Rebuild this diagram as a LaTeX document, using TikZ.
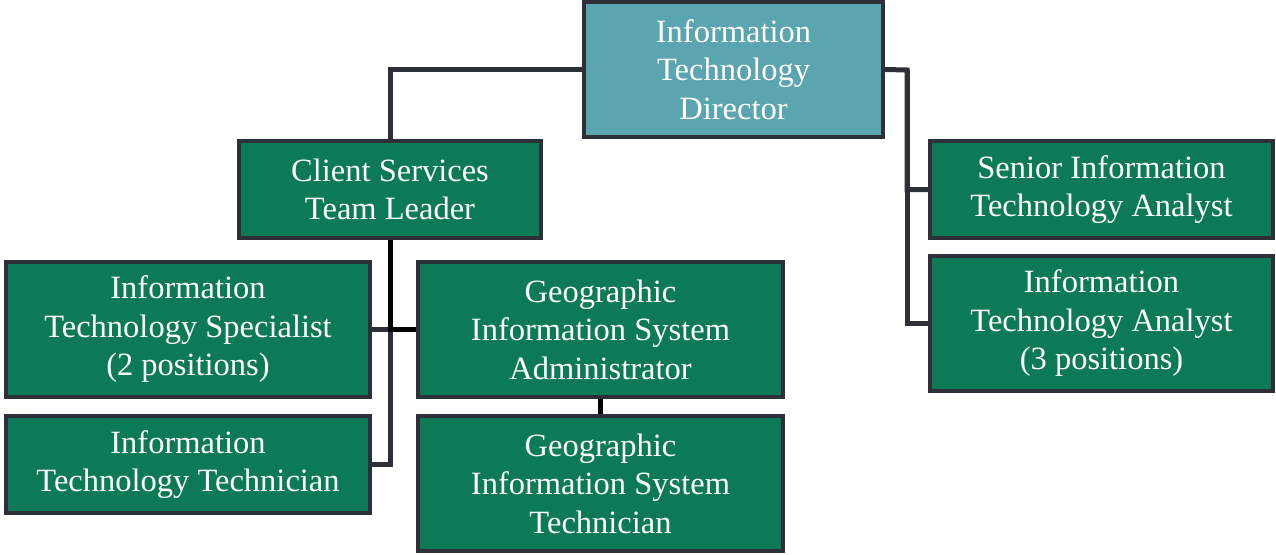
\documentclass[tikz,border=0pt]{standalone}
\usepackage{fontspec}
\setmainfont{Liberation Serif}
\usetikzlibrary{positioning}

\definecolor{boxgreen}{HTML}{0C7A56}
\definecolor{boxteal}{HTML}{5AA5B0}
\definecolor{edgegrey}{HTML}{2D3039}

\tikzset{
  orgbox/.style={rectangle,draw=edgegrey,line width=4pt,fill=boxgreen,text=white,
    align=center,inner sep=0pt,font=\fontsize{32.5}{38.5}\selectfont},
  link/.style={draw=edgegrey,line width=5pt},
  linkfront/.style={draw=black,line width=5pt}
}

\begin{document}
\begin{tikzpicture}[x=1pt,y=-1pt]
\useasboundingbox (0,0) rectangle (1276,554);

\node[orgbox,fill=boxteal,minimum width=299pt,minimum height=135pt] (dir) at (733.5,69.5) {Information\\Technology\\Director};
\node[orgbox,minimum width=302pt,minimum height=97pt] (cs) at (390,189.5) {Client Services\\Team Leader};
\node[orgbox,minimum width=364pt,minimum height=135pt] (its) at (188,329.5) {Information\\Technology Specialist\\(2 positions)};
\node[orgbox,minimum width=364pt,minimum height=97pt] (itt) at (188,464.5) {Information\\Technology Technician};
\node[orgbox,minimum width=365pt,minimum height=135pt] (gisa) at (600.5,329.5) {Geographic\\Information System\\Administrator};
\node[orgbox,minimum width=365pt,minimum height=135pt] (gist) at (600.5,483.5) {Geographic\\Information System\\Technician};
\node[orgbox,minimum width=343pt,minimum height=97pt] (sita) at (1101.5,189.5) {Senior Information\\Technology Analyst};
\node[orgbox,minimum width=343pt,minimum height=135pt] (ita) at (1101.5,323.5) {Information\\Technology Analyst\\(3 positions)};

% director to the two branches
\draw[link] (dir.west) -| (cs.north);
\coordinate (rbus) at (907,70);
\draw[link] (dir.east) -- (rbus) |- (sita.west);
\draw[link] (rbus) |- (ita.west);

% client services team
\draw[link] (its.east) -- (cs.south |- its.east);
\draw[link] (cs.south) |- (itt.east);
\draw[linkfront] (cs.south) |- (gisa.west);
\draw[linkfront] (gisa.south) -- (gist.north);

\end{tikzpicture}
\end{document}
